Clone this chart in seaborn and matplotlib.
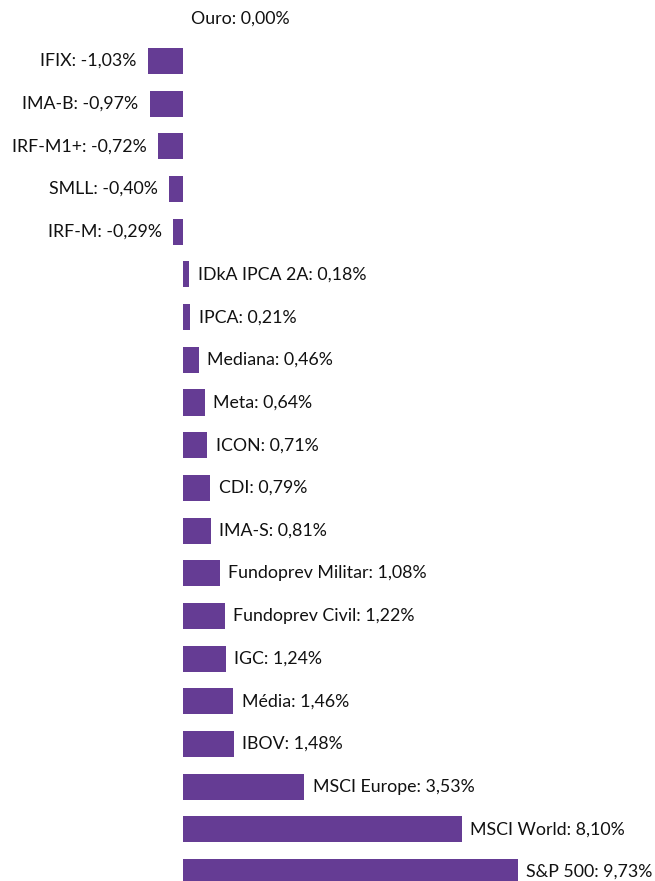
import matplotlib
matplotlib.use('Agg')
import matplotlib.pyplot as plt
import seaborn as sns
import pandas as pd

# ── Données ──────────────────────────────────────────────────────────
indices = [
    "Ouro", "IFIX", "IMA-B", "IRF-M1+", "SMLL", "IRF-M", "IDkA IPCA 2A",
    "IPCA", "Mediana", "Meta", "ICON", "CDI", "IMA-S", "Fundoprev Militar",
    "Fundoprev Civil", "IGC", "Média", "IBOV", "MSCI Europe", "MSCI World",
    "S&P 500",
]
rentab = [
    0.00, -1.03, -0.97, -0.72, -0.40, -0.29, 0.18,
    0.21, 0.46, 0.64, 0.71, 0.79, 0.81, 1.08,
    1.22, 1.24, 1.46, 1.48, 3.53, 8.10,
    9.73,
]

COR = "#653C94"

sns.set_theme(style="white")
plt.rcParams['font.family'] = ['Lato', 'DejaVu Sans']

df = pd.DataFrame({"indice": indices, "valor": rentab})

fig = plt.figure(figsize=(6.55, 8.81), dpi=100)
ax = fig.add_axes([0, 0, 1, 1])

sns.barplot(data=df, y="indice", x="valor", orient="h", color=COR,
            saturation=1, width=0.61, linewidth=0, ax=ax)

# étiquettes à côté de chaque barre
for i, (nom, v) in enumerate(zip(indices, rentab)):
    txt = f"{nom}: {v:.2f}%".replace(".", ",")
    if v < 0:
        ax.annotate(txt, (v, i), xytext=(-8, 0), textcoords="offset points",
                    ha="right", va="center", fontsize=12.8, color="#111111")
    else:
        ax.annotate(txt, (v, i), xytext=(6, 0), textcoords="offset points",
                    ha="left", va="center", fontsize=12.8, color="#111111")

ax.set_xlim(-183 / 34.4, (655 - 183) / 34.4)
ax.set_ylim(20.21, -0.43)
ax.axis("off")

plt.savefig("out.png", dpi=100)
plt.close()
